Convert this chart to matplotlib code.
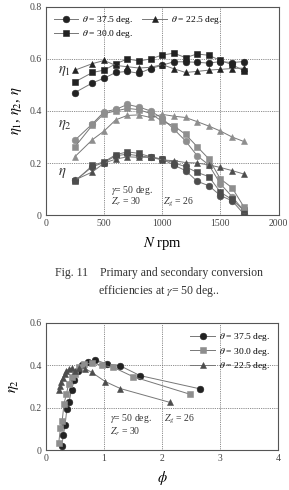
import matplotlib
matplotlib.use("Agg")
import matplotlib.pyplot as plt

plt.rcParams["font.family"] = ["Liberation Serif", "DejaVu Serif"]
plt.rcParams["mathtext.fontset"] = "stix"

# rotational speed, rpm
N_rpm = [250, 400, 500, 600, 700, 800, 900, 1000, 1100, 1200, 1300, 1400, 1500, 1600, 1700]

# primary conversion efficiency eta1
eta1_375 = [0.471, 0.508, 0.526, 0.548, 0.552, 0.545, 0.563, 0.576, 0.589, 0.589, 0.587, 0.584, 0.590, 0.586, 0.590]
eta1_300 = [0.512, 0.548, 0.557, 0.581, 0.600, 0.592, 0.600, 0.615, 0.622, 0.605, 0.619, 0.614, 0.594, 0.578, 0.555]
eta1_225 = [0.557, 0.582, 0.594, 0.575, 0.570, 0.565, 0.568, 0.578, 0.562, 0.548, 0.552, 0.557, 0.560, 0.563, 0.565]

# secondary conversion efficiency eta2
eta2_375 = [0.288, 0.351, 0.397, 0.406, 0.425, 0.415, 0.400, 0.372, 0.330, 0.285, 0.228, 0.193, 0.120, 0.071, 0.018]
eta2_300 = [0.263, 0.346, 0.390, 0.400, 0.410, 0.405, 0.390, 0.360, 0.343, 0.310, 0.263, 0.216, 0.139, 0.105, 0.033]
eta2_225 = [0.225, 0.290, 0.323, 0.366, 0.383, 0.385, 0.375, 0.387, 0.380, 0.375, 0.359, 0.342, 0.323, 0.300, 0.283]

# total efficiency eta
eta_375 = [0.133, 0.186, 0.202, 0.228, 0.234, 0.228, 0.222, 0.215, 0.192, 0.171, 0.130, 0.113, 0.075, 0.055, 0.005]
eta_300 = [0.130, 0.191, 0.205, 0.232, 0.243, 0.237, 0.224, 0.215, 0.201, 0.186, 0.164, 0.148, 0.088, 0.060, 0.018]
eta_225 = [0.135, 0.166, 0.200, 0.215, 0.224, 0.222, 0.222, 0.212, 0.209, 0.202, 0.200, 0.193, 0.183, 0.171, 0.158]

# flow coefficient phi (same speed order)
phi_375 = [2.66, 1.62, 1.28, 1.05, 0.85, 0.72, 0.62, 0.55, 0.49, 0.44, 0.40, 0.36, 0.33, 0.30, 0.27]
phi_300 = [2.48, 1.50, 1.16, 0.96, 0.80, 0.66, 0.57, 0.50, 0.44, 0.39, 0.35, 0.31, 0.28, 0.25, 0.22]
phi_225 = [2.13, 1.28, 1.02, 0.79, 0.68, 0.57, 0.50, 0.44, 0.39, 0.35, 0.32, 0.29, 0.26, 0.24, 0.22]

labels = [r"$\theta$ = 37.5 deg.", r"$\theta$ = 30.0 deg.", r"$\theta$ = 22.5 deg."]
markers = ["o", "s", "^"]

LINE = "#777777"
BLACK = "#222222"
GRAY = "#8e8e8e"
DARK = "#4d4d4d"
TICK_FS = 7


def style_axes(ax):
    for s in ax.spines.values():
        s.set_color("#555555")
        s.set_linewidth(0.8)
    ax.tick_params(direction="in", length=0, labelsize=TICK_FS, colors="#444444", pad=3)
    ax.grid(True, linestyle=(0, (1, 1.2)), color="#666666", linewidth=0.6)


def draw(ax, x, y, marker, color, label=None):
    ax.plot(x, y, color=LINE, linewidth=0.7, marker=marker, markersize=4.8,
            markerfacecolor=color, markeredgecolor=color, markeredgewidth=0.4,
            label=label, zorder=3)


fig = plt.figure(figsize=(2.89, 4.90), dpi=100)

# ---- Fig. 11 ----
ax1 = fig.add_axes([0.159, 0.561, 0.805, 0.425])
style_axes(ax1)
eta1_all = [eta1_375, eta1_300, eta1_225]
eta2_all = [eta2_375, eta2_300, eta2_225]
eta_all = [eta_375, eta_300, eta_225]
for i in range(3):
    draw(ax1, N_rpm, eta_all[i], markers[i], DARK)
    draw(ax1, N_rpm, eta2_all[i], markers[i], GRAY)
    draw(ax1, N_rpm, eta1_all[i], markers[i], BLACK, label=labels[i])
ax1.set_xlim(0, 2000)
ax1.set_ylim(0, 0.8)
ax1.set_xticks([0, 500, 1000, 1500, 2000])
ax1.set_yticks([0, 0.2, 0.4, 0.6, 0.8])
ax1.set_yticklabels(["0", "0.2", "0.4", "0.6", "0.8"])
ax1.set_xlabel(r"$N$ rpm", fontsize=10.5, labelpad=5)
ax1.set_ylabel(r"$\eta_1$, $\eta_2$, $\eta$", fontsize=10.5, labelpad=4)
h, l = ax1.get_legend_handles_labels()
ax1.legend(h, l, ncol=2, loc="upper left", bbox_to_anchor=(0.0, 1.0), frameon=False,
           fontsize=6.8, handlelength=2.6, columnspacing=1.0, labelspacing=0.2,
           handletextpad=0.4, borderaxespad=0.4)
ax1.text(100, 0.545, r"$\eta_1$", fontsize=10.5, color="#333333")
ax1.text(100, 0.34, r"$\eta_2$", fontsize=10.5, color="#333333")
ax1.text(100, 0.155, r"$\eta$", fontsize=10.5, color="#333333")
ax1.text(560, 0.085, r"$\gamma$= 50 deg.", fontsize=7, color="#333333")
ax1.text(560, 0.04, r"$Z_r$ = 30", fontsize=7, color="#333333")
ax1.text(1010, 0.04, r"$Z_g$ = 26", fontsize=7, color="#333333")

fig.text(0.55, 0.437, "Fig. 11    Primary and secondary conversion",
         ha="center", fontsize=8.5, color="#333333")
fig.text(0.55, 0.401, r"efficiencies at $\gamma$= 50 deg..",
         ha="center", fontsize=8.5, color="#333333")

# ---- eta2 vs phi ----
ax2 = fig.add_axes([0.159, 0.0816, 0.804, 0.2596])
style_axes(ax2)
phi_all = [phi_375, phi_300, phi_225]
colors2 = [BLACK, GRAY, DARK]
for i in range(3):
    draw(ax2, phi_all[i], eta2_all[i], markers[i], colors2[i], label=labels[i])
ax2.set_xlim(0, 4)
ax2.set_ylim(0, 0.6)
ax2.set_xticks([0, 1, 2, 3, 4])
ax2.set_yticks([0, 0.2, 0.4, 0.6])
ax2.set_yticklabels(["0", "0.2", "0.4", "0.6"])
ax2.set_xlabel(r"$\phi$", fontsize=10.5, labelpad=4)
ax2.set_ylabel(r"$\eta_2$", fontsize=10.5, labelpad=6)
ax2.legend(loc="upper right", frameon=False, fontsize=6.8, handlelength=2.6,
           labelspacing=0.25, handletextpad=0.4, borderaxespad=0.5)
ax2.text(1.1, 0.135, r"$\gamma$= 50 deg.", fontsize=7, color="#333333")
ax2.text(1.1, 0.075, r"$Z_r$ = 30", fontsize=7, color="#333333")
ax2.text(2.03, 0.135, r"$Z_g$ = 26", fontsize=7, color="#333333")

fig.savefig("out.png", dpi=100)
